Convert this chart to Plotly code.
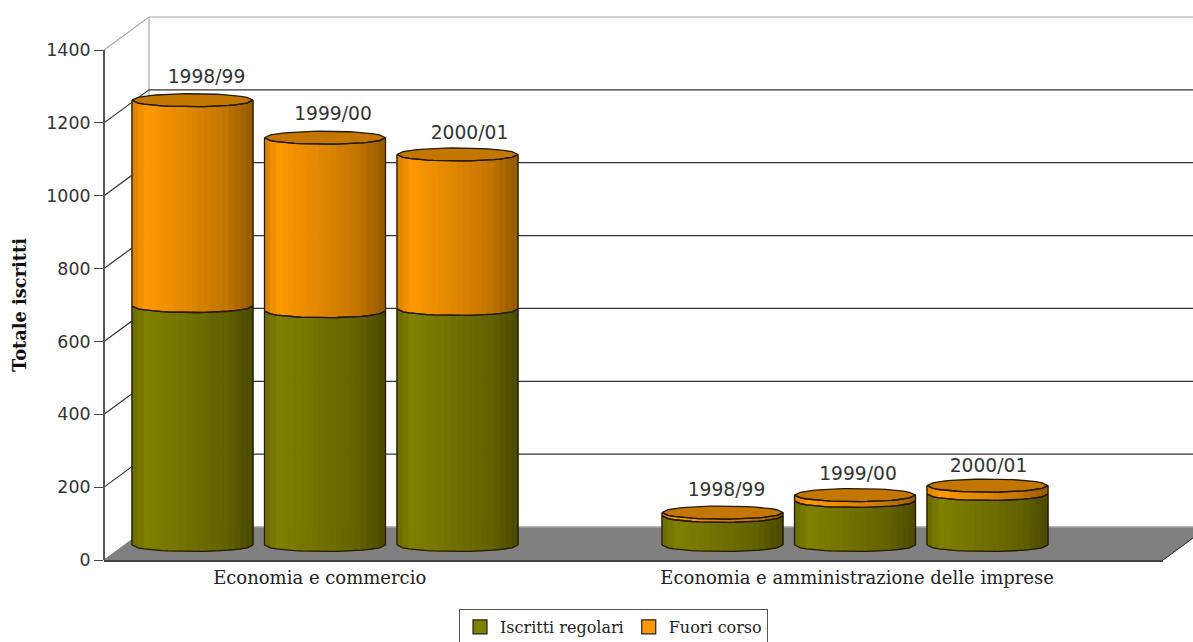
import math
import plotly.graph_objects as go

# ---- data ----
categories = ["Economia e commercio", "Economia e amministrazione delle imprese"]
years = ["1998/99", "1999/00", "2000/01"]
iscritti_regolari = [[656, 642, 648], [80, 121, 140]]
fuori_corso = [[565, 476, 424], [9, 16, 23]]
series_names = ["Iscritti regolari", "Fuori corso"]
y_ticks = [0, 200, 400, 600, 800, 1000, 1200, 1400]

# ---- layout constants ----
W, H = 1193, 642
PX_L, PX_R, PX_Y0, PX_Y1400 = 104, 1163, 560, 50
PX_PER_CAT, PX_CAT0 = 530, 325
PX_PER_VAL = (PX_Y0 - PX_Y1400) / 1400
XMIN = (PX_L - PX_CAT0) / PX_PER_CAT
XMAX = (PX_R - PX_CAT0) / PX_PER_CAT
WALL_DX = 45 / PX_PER_CAT
WALL_DY = 33 / PX_PER_VAL
BASE = 15 / PX_PER_VAL
BAR_STEP = 132.5 / PX_PER_CAT
BAR_HALF = 60.5 / PX_PER_CAT
ELL = 6.5 / PX_PER_VAL
N = 20
LABEL_DX = [[14, 8, 12], [4, 3, 1]]
LABEL_DY = [[21.5, 22.5, 20.5], [21.5, 19.5, 18.5]]
ORANGE = (255, 153, 0)
OLIVE = (128, 128, 0)
CAP = "#c47700"
EDGE = "#241a00"

fig = go.Figure()


def line(xs, ys, color, width=1.0):
    fig.add_trace(go.Scatter(x=xs, y=ys, mode="lines", line=dict(color=color, width=width),
                             hoverinfo="skip", showlegend=False))


# floor
fx = [XMIN, XMAX, XMAX + WALL_DX, XMIN + WALL_DX, XMIN]
fy = [0, 0, WALL_DY, WALL_DY, 0]
fig.add_trace(go.Scatter(x=fx, y=fy, mode="lines", fill="toself", fillcolor="#808080",
                         line=dict(color="#808080", width=1), hoverinfo="skip", showlegend=False))
line([XMAX, XMAX + WALL_DX], [0, WALL_DY], "#333333", 1)
line([XMIN + WALL_DX, XMAX + WALL_DX], [WALL_DY, WALL_DY], "#b0b0b0", 1)

# walls
xw0 = XMIN + WALL_DX
xw1 = XMAX + WALL_DX
line([xw0, xw0], [WALL_DY, 1400 + WALL_DY], "#a8a8a8", 1.2)
for t in y_ticks[1:]:
    c = "#a8a8a8" if t == 1400 else "#333333"
    line([XMIN, xw0, xw1], [t, t + WALL_DY, t + WALL_DY], c, 1.2)


def shade(f):
    stops = [(0, .84), (.13, 1.0), (.22, .96), (.5, .87), (.78, .76), (1, .58)]
    for (a, p), (b, q) in zip(stops, stops[1:]):
        if f <= b:
            return p + (q - p) * (f - a) / (b - a)
    return stops[-1][1]


def rgb(col, k):
    return "rgb(%d,%d,%d)" % tuple(round(c * k) for c in col)


ts = [-1 + 2 * i / N for i in range(N + 1)]
front = [ELL * math.sqrt(max(0, 1 - t * t)) for t in ts]

# gather geometry for every cylinder segment
segments = []
for g in range(len(categories)):
    for b in range(len(years)):
        cx = g + (b - 1) * BAR_STEP
        v1 = iscritti_regolari[g][b]
        v2 = v1 + fuori_corso[g][b]
        segments.append((cx, BASE, BASE + v1, OLIVE))
        segments.append((cx, BASE + v1, BASE + v2, ORANGE))

for col in (OLIVE, ORANGE):
    for i in range(N):
        xs, ys = [], []
        k = shade((i + .5) / N)
        for cx, lo, hi, c in segments:
            if c != col:
                continue
            xl, xr = cx + ts[i] * BAR_HALF, cx + ts[i + 1] * BAR_HALF
            xs += [xl, xr, xr, xl, xl, None]
            ys += [hi - front[i], hi - front[i + 1], lo - front[i + 1], lo - front[i], hi - front[i], None]
        fig.add_trace(go.Scatter(x=xs, y=ys, mode="lines", fill="toself", fillcolor=rgb(col, k),
                                 line=dict(color=rgb(col, k), width=1), hoverinfo="skip",
                                 showlegend=False))

# outlines and top caps
ex, ey = [], []
cap_x, cap_y = [], []
for cx, lo, hi, c in segments:
    ex += [cx - BAR_HALF, cx - BAR_HALF, None, cx + BAR_HALF, cx + BAR_HALF, None]
    ey += [lo, hi, None, lo, hi, None]
    for level in (lo, hi):
        ex += [cx + t * BAR_HALF for t in ts] + [None]
        ey += [level - f for t, f in zip(ts, front)] + [None]
    if c == ORANGE:
        cap_x += [cx + t * BAR_HALF for t in ts] + [cx + t * BAR_HALF for t in reversed(ts)] + [None]
        cap_y += [hi - f for f in front] + [hi + f for f in reversed(front)] + [None]
fig.add_trace(go.Scatter(x=cap_x, y=cap_y, mode="lines", fill="toself", fillcolor=CAP,
                         line=dict(color=EDGE, width=1.3), hoverinfo="skip", showlegend=False))
line(ex, ey, EDGE, 1.3)

# year labels
lx, ly, lt = [], [], []
for g in range(len(categories)):
    for b in range(len(years)):
        lx.append(g + (b - 1) * BAR_STEP + LABEL_DX[g][b] / PX_PER_CAT)
        ly.append(BASE + iscritti_regolari[g][b] + fuori_corso[g][b] + LABEL_DY[g][b] / PX_PER_VAL)
        lt.append(years[b])
fig.add_trace(go.Scatter(x=lx, y=ly, text=lt, mode="text", textposition="middle center",
                         textfont=dict(family="DejaVu Sans", size=18.7, color="#333333"),
                         hoverinfo="skip", showlegend=False))

# legend entries live on the tick-bearing axes
for name, col in zip(series_names, (OLIVE, ORANGE)):
    fig.add_trace(go.Scatter(x=[None], y=[None], mode="markers", name=name, xaxis="x2", yaxis="y2",
                             marker=dict(symbol="square", size=14, color=rgb(col, 1),
                                         line=dict(color="#222222", width=1.2))))

fig.update_layout(
    width=W, height=H,
    margin=dict(l=0, r=0, t=0, b=0, autoexpand=False),
    paper_bgcolor="white", plot_bgcolor="rgba(0,0,0,0)",
    showlegend=True,
    legend=dict(orientation="h", x=613.5 / W, xanchor="center", y=1 - 609 / H, yanchor="top",
                bordercolor="#555555", borderwidth=1, bgcolor="white",
                font=dict(family="DejaVu Serif", size=16, color="#222222"),
                itemclick=False, itemdoubleclick=False),
    # full-figure axes carrying the 3D scene, on the same scale as the visible axes
    xaxis=dict(domain=[0, 1], range=[-PX_CAT0 / PX_PER_CAT, (W - PX_CAT0) / PX_PER_CAT],
               visible=False, showgrid=False, zeroline=False),
    yaxis=dict(domain=[0, 1], range=[(PX_Y0 - H) / PX_PER_VAL, PX_Y0 / PX_PER_VAL],
               visible=False, showgrid=False, zeroline=False),
    # visible axes
    xaxis2=dict(domain=[PX_L / W, PX_R / W], range=[XMIN, XMAX], anchor="y2",
                tickmode="array", tickvals=[-0.01, 1.004], ticktext=categories,
                ticks="", showgrid=False, zeroline=False,
                showline=True, linecolor="#444444", linewidth=2,
                tickfont=dict(family="DejaVu Serif", size=18, color="#222222")),
    yaxis2=dict(domain=[1 - PX_Y0 / H, 1 - PX_Y1400 / H], range=[0, 1400],
                anchor="free", position=PX_L / W,
                tickmode="array", tickvals=y_ticks, ticks="outside", ticklen=9, tickcolor="#444444",
                showgrid=False, zeroline=False,
                showline=True, linecolor="#555555", linewidth=2,
                tickfont=dict(family="DejaVu Sans", size=17.4, color="#333333"),
                title=dict(text="<b>Totale iscritti</b>", standoff=14,
                           font=dict(family="DejaVu Serif", size=17.8, color="#111111"))),
)
fig.write_html("out.html", config=dict(displayModeBar=False),
               post_script="document.body.style.margin='0';document.body.style.overflow='hidden';")
